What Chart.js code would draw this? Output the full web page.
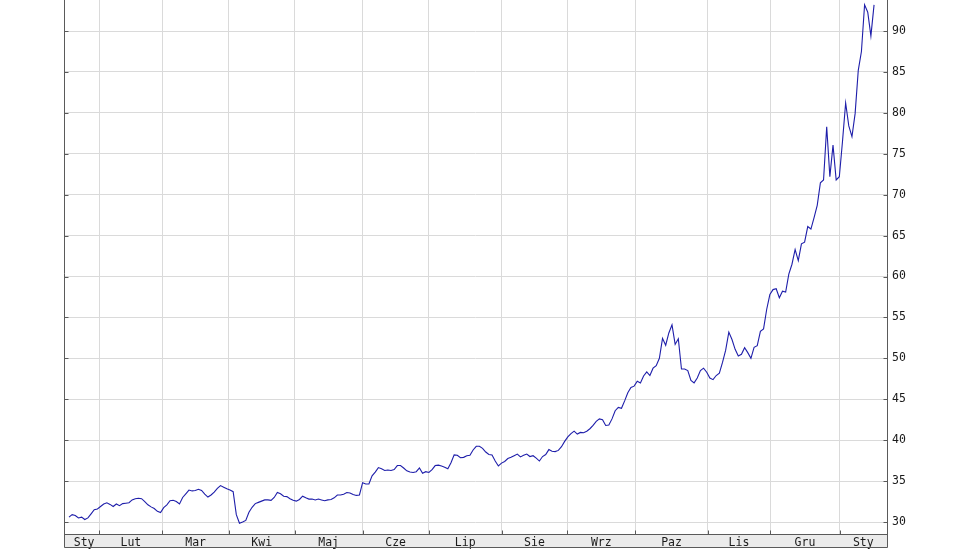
<!DOCTYPE html>
<html>
<head>
<meta charset="utf-8">
<script src="https://cdn.jsdelivr.net/npm/chart.js@4"></script>
<style>
html,body{margin:0;padding:0;background:#fff;}
canvas{display:block;}
</style>
</head>
<body>
<canvas id="c" width="960" height="549"></canvas>
<script>
// trading-day series (index 0 = first session shown)
const values = [
30.6,30.9,30.8,30.5,30.6,30.3,30.5,31.0,31.5,31.6,
31.9,32.2,32.35,32.15,31.9,32.2,32.0,32.25,32.3,32.35,
32.7,32.85,32.9,32.85,32.5,32.1,31.85,31.65,31.3,31.15,
31.75,32.1,32.6,32.65,32.5,32.2,33.0,33.45,33.9,33.8,
33.85,34.0,33.85,33.4,33.05,33.3,33.65,34.1,34.45,34.25,
34.05,33.9,33.7,30.9,29.85,30.0,30.2,31.2,31.8,32.25,
32.4,32.55,32.7,32.7,32.65,33.0,33.6,33.45,33.15,33.1,
32.85,32.65,32.55,32.75,33.15,32.95,32.8,32.8,32.7,32.8,
32.7,32.6,32.7,32.75,32.95,33.3,33.3,33.4,33.6,33.55,
33.35,33.25,33.3,34.8,34.65,34.65,35.65,36.1,36.65,36.5,
36.3,36.35,36.3,36.4,36.9,36.9,36.6,36.25,36.1,36.05,
36.15,36.6,35.95,36.15,36.05,36.4,36.9,36.95,36.85,36.7,
36.5,37.25,38.2,38.15,37.85,37.9,38.1,38.15,38.8,39.25,
39.25,39.0,38.55,38.25,38.2,37.45,36.85,37.2,37.4,37.75,
37.9,38.1,38.3,37.95,38.15,38.3,38.0,38.1,37.8,37.45,
38.0,38.25,38.85,38.65,38.6,38.75,39.2,39.85,40.4,40.8,
41.1,40.75,40.95,40.9,41.1,41.4,41.8,42.3,42.6,42.5,
41.8,41.85,42.6,43.6,44.0,43.9,44.8,45.8,46.45,46.6,
47.2,47.0,47.85,48.35,47.9,48.8,49.1,50.0,52.45,51.6,
53.1,54.1,51.7,52.4,48.7,48.7,48.5,47.3,47.0,47.6,
48.5,48.8,48.3,47.6,47.4,47.9,48.2,49.5,51.0,53.2,
52.3,51.1,50.3,50.5,51.3,50.7,50.0,51.35,51.55,53.3,
53.6,56.0,57.8,58.4,58.5,57.4,58.2,58.1,60.3,61.5,
63.3,61.95,64.0,64.2,66.1,65.8,67.2,68.7,71.45,71.8,
78.3,72.2,76.05,71.8,72.2,76.5,81.2,78.4,77.1,79.9,
85.2,87.5,93.2,92.3,89.4,93.2
];
// month starts, in trading-day units
const monthStarts = [9.6, 29.6, 50.6, 71.5, 93.0, 113.9, 137.1, 157.8, 179.4, 202.3, 222.1, 244.1];
const monthLabels = ['Sty','Lut','Mar','Kwi','Maj','Cze','Lip','Sie','Wrz','Paz','Lis','Gru','Sty'];
const yTicks = [30,35,40,45,50,55,60,65,70,75,80,85,90];
const xMin = -1.58, xMax = 259.1;
const yMin = 28.534, yMax = 93.79;

// tick list for the x axis: month starts (grid lines) + month centres (labels)
const edges = [0].concat(monthStarts, [xMax]);
const xTickList = [];
const xTickText = [];
const boundarySet = new Set(monthStarts);
for (let i = 0; i < monthLabels.length; i++) {
  xTickList.push((edges[i] + edges[i+1]) / 2);
  xTickText.push(monthLabels[i]);
  if (i < monthStarts.length) { xTickList.push(monthStarts[i]); xTickText.push(''); }
}

const AXIS = '#5a5a5a';
const GRID = '#dadada';
const FONT = {family: 'DejaVu Sans Mono', size: 11.5};

const frame = {
  id: 'frame',
  beforeDraw(chart) {
    const {ctx, chartArea: a} = chart;
    ctx.save();
    ctx.fillStyle = '#ebebeb';
    ctx.fillRect(a.left, a.bottom, a.right - a.left, 14);
    ctx.restore();
  },
  afterDraw(chart) {
    const {ctx, chartArea: a, scales} = chart;
    const x = scales.x, y = scales.y;
    ctx.save();
    ctx.strokeStyle = AXIS;
    ctx.lineWidth = 1;
    ctx.beginPath();
    const L = Math.round(a.left) + 0.5, R = Math.round(a.right) + 0.5, B = Math.round(a.bottom) + 0.5;
    ctx.moveTo(L, 0); ctx.lineTo(L, B + 13);
    ctx.moveTo(R, 0); ctx.lineTo(R, B + 13);
    ctx.moveTo(L, B); ctx.lineTo(R, B);
    ctx.moveTo(L, B + 13); ctx.lineTo(R, B + 13);
    yTicks.forEach(v => {
      const py = Math.round(y.getPixelForValue(v)) + 0.5;
      ctx.moveTo(L, py); ctx.lineTo(L + 4, py);
      ctx.moveTo(R - 4, py); ctx.lineTo(R, py);
    });
    monthStarts.forEach(v => {
      const px = Math.round(x.getPixelForValue(v)) + 0.5;
      ctx.moveTo(px, B - 4); ctx.lineTo(px, B);
    });
    ctx.stroke();
    ctx.restore();
  }
};

new Chart(document.getElementById('c'), {
  type: 'line',
  data: {
    datasets: [{
      data: values.map((v, i) => ({x: i, y: v})),
      borderColor: '#1e1eaa',
      borderWidth: 1.1,
      pointRadius: 0,
      tension: 0,
      fill: false
    }]
  },
  options: {
    responsive: false,
    animation: false,
    events: [],
    layout: {padding: {left: 64, top: 0, right: 0, bottom: 0}},
    plugins: {legend: {display: false}, tooltip: {enabled: false}},
    scales: {
      x: {
        type: 'linear',
        position: 'bottom',
        min: xMin,
        max: xMax,
        afterBuildTicks: s => { s.ticks = xTickList.map(v => ({value: v})); },
        afterFit: s => { s.height = 15; s.paddingLeft = 0; s.paddingRight = 0; },
        ticks: {
          autoSkip: false,
          maxRotation: 0,
          minRotation: 0,
          padding: 2,
          color: '#1a1a1a',
          font: FONT,
          callback: (v, i) => xTickText[i]
        },
        grid: {
          drawTicks: false,
          tickLength: 0,
          color: c => (c.tick && boundarySet.has(c.tick.value)) ? GRID : 'rgba(0,0,0,0)'
        },
        border: {display: false}
      },
      y: {
        type: 'linear',
        position: 'right',
        min: yMin,
        max: yMax,
        afterBuildTicks: s => { s.ticks = yTicks.map(v => ({value: v})); },
        afterFit: s => { s.width = 73; s.paddingTop = 0; s.paddingBottom = 0; },
        ticks: {
          padding: 5,
          color: '#1a1a1a',
          font: FONT,
          callback: v => String(v)
        },
        grid: {drawTicks: false, tickLength: 0, color: GRID},
        border: {display: false}
      }
    }
  },
  plugins: [frame]
});
</script>
</body>
</html>
